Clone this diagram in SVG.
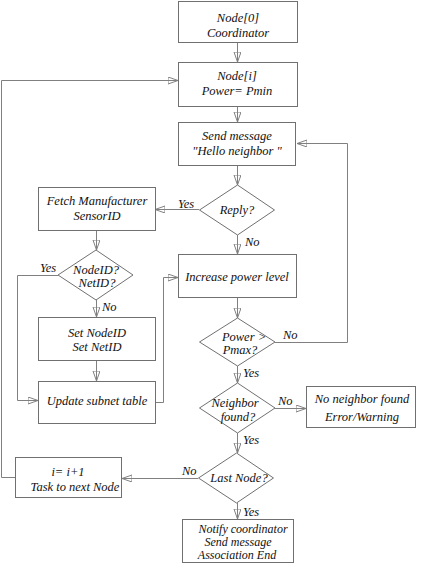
<svg xmlns="http://www.w3.org/2000/svg" width="424" height="564" viewBox="0 0 424 564">
<style>
.box{fill:#fff;stroke:#707070;stroke-width:1}
.dia{fill:#fff;stroke:#707070;stroke-width:1}
.ln{fill:none;stroke:#808080;stroke-width:1;marker-end:url(#arr)}
text{font-family:"Liberation Serif","DejaVu Serif","Times New Roman",serif;font-style:italic;font-size:12.5px;fill:#111;text-anchor:middle}
.lbl{text-anchor:start}
.sm{font-size:12px}
</style>
<defs>
<marker id="arr" markerWidth="12" markerHeight="9" refX="10" refY="3.5" orient="auto" markerUnits="userSpaceOnUse">
<path d="M0,0 L10,3.5 L0,7 Z" fill="none" stroke="#808080" stroke-width="1"/>
</marker>
</defs>
<g id="connectors">
<line class="ln" x1="237.5" y1="43" x2="237.5" y2="62"/>
<line class="ln" x1="237.5" y1="107" x2="237.5" y2="122"/>
<line class="ln" x1="237.5" y1="166" x2="237.5" y2="185"/>
<line class="ln" x1="237.5" y1="235" x2="237.5" y2="254"/>
<line class="ln" x1="237.5" y1="298" x2="237.5" y2="318"/>
<line class="ln" x1="237.5" y1="366" x2="237.5" y2="383"/>
<line class="ln" x1="237.5" y1="433" x2="237.5" y2="453"/>
<line class="ln" x1="237.5" y1="503" x2="237.5" y2="519"/>
<line class="ln" x1="96.5" y1="231" x2="96.5" y2="250"/>
<line class="ln" x1="96.5" y1="300" x2="96.5" y2="317"/>
<line class="ln" x1="96.5" y1="361" x2="96.5" y2="381"/>
<line class="ln" x1="199" y1="209.5" x2="155" y2="209.5"/>
<polyline class="ln" points="58,275.5 17.5,275.5 17.5,400.5 38,400.5"/>
<polyline class="ln" points="155,402.5 163.5,402.5 163.5,277.5 178,277.5"/>
<polyline class="ln" points="275,342.5 347.5,342.5 347.5,143.5 297,143.5"/>
<line class="ln" x1="275" y1="408.5" x2="306" y2="408.5"/>
<line class="ln" x1="198" y1="478.5" x2="122" y2="478.5"/>
<polyline class="ln" points="15,477.5 1.5,477.5 1.5,80.5 178,80.5"/>
<text class="lbl" x="178" y="208">Yes</text>
<text class="lbl" x="245" y="246">No</text>
<text class="lbl" x="40" y="272">Yes</text>
<text class="lbl" x="102" y="311">No</text>
<text class="lbl" x="283" y="339">No</text>
<text class="lbl" x="243" y="377">Yes</text>
<text class="lbl" x="278" y="405">No</text>
<text class="lbl" x="243" y="444">Yes</text>
<text class="lbl" x="182" y="475">No</text>
<text class="lbl" x="243" y="516">Yes</text>
</g>
<g id="node0"><rect class="box" x="178.5" y="1.5" width="119" height="41"/><text x="238" y="22">Node[0]</text><text x="238" y="37">Coordinator</text></g>
<g id="nodei"><rect class="box" x="178.5" y="62.5" width="119" height="44"/><text x="237" y="80">Node[i]</text><text x="237" y="95">Power= Pmin</text></g>
<g id="send"><rect class="box" x="178.5" y="122.5" width="117" height="43"/><text x="237" y="140">Send message</text><text x="237" y="155">"Hello neighbor "</text></g>
<g id="reply"><polygon class="dia" points="237.5,185 274.5,210 237.5,235 199.5,210"/><text x="237" y="214">Reply?</text></g>
<g id="fetch"><rect class="box" x="38.5" y="187.5" width="117" height="43"/><text x="97" y="205">Fetch Manufacturer</text><text x="97" y="220">SensorID</text></g>
<g id="nodeid"><polygon class="dia" points="96,250 133,275 96,300 58,275"/><text x="96" y="274">NodeID?</text><text x="97" y="287">NetID?</text></g>
<g id="increase"><rect class="box" x="178.5" y="254.5" width="118" height="43"/><text x="237" y="281">Increase power level</text></g>
<g id="setid"><rect class="box" x="38.5" y="317.5" width="117" height="43"/><text x="97" y="337">Set NodeID</text><text x="97" y="351">Set NetID</text></g>
<g id="update"><rect class="box" x="38.5" y="381.5" width="117" height="42"/><text x="97" y="405">Update subnet table</text></g>
<g id="power"><polygon class="dia" points="237.5,318 275,342 237.5,366 199.5,342"/><text x="244" y="341">Power &gt;</text><text x="240" y="354">Pmax?</text></g>
<g id="neighbor"><polygon class="dia" points="237.5,383 275,408 237.5,433 199.5,408"/><text x="235" y="407">Neighbor</text><text x="238" y="421">found?</text></g>
<g id="noneighbor"><rect class="box" x="306.5" y="386.5" width="109" height="41"/><text x="362" y="403">No neighbor found</text><text x="362" y="421">Error/Warning</text></g>
<g id="last"><polygon class="dia" points="236.5,453 273.5,478 236.5,503 198.5,478"/><text x="239" y="482">Last Node?</text></g>
<g id="inext"><rect class="box" x="15.5" y="457.5" width="106" height="40"/><text x="68" y="476">i= i+1</text><text x="75" y="491">Task to next Node</text></g>
<g id="notify"><rect class="box" x="182.5" y="519.5" width="111" height="43"/><text class="sm" x="243" y="533">Notify coordinator</text><text class="sm" x="238" y="545.5">Send message</text><text class="sm" x="237" y="559">Association End</text></g>
</svg>
